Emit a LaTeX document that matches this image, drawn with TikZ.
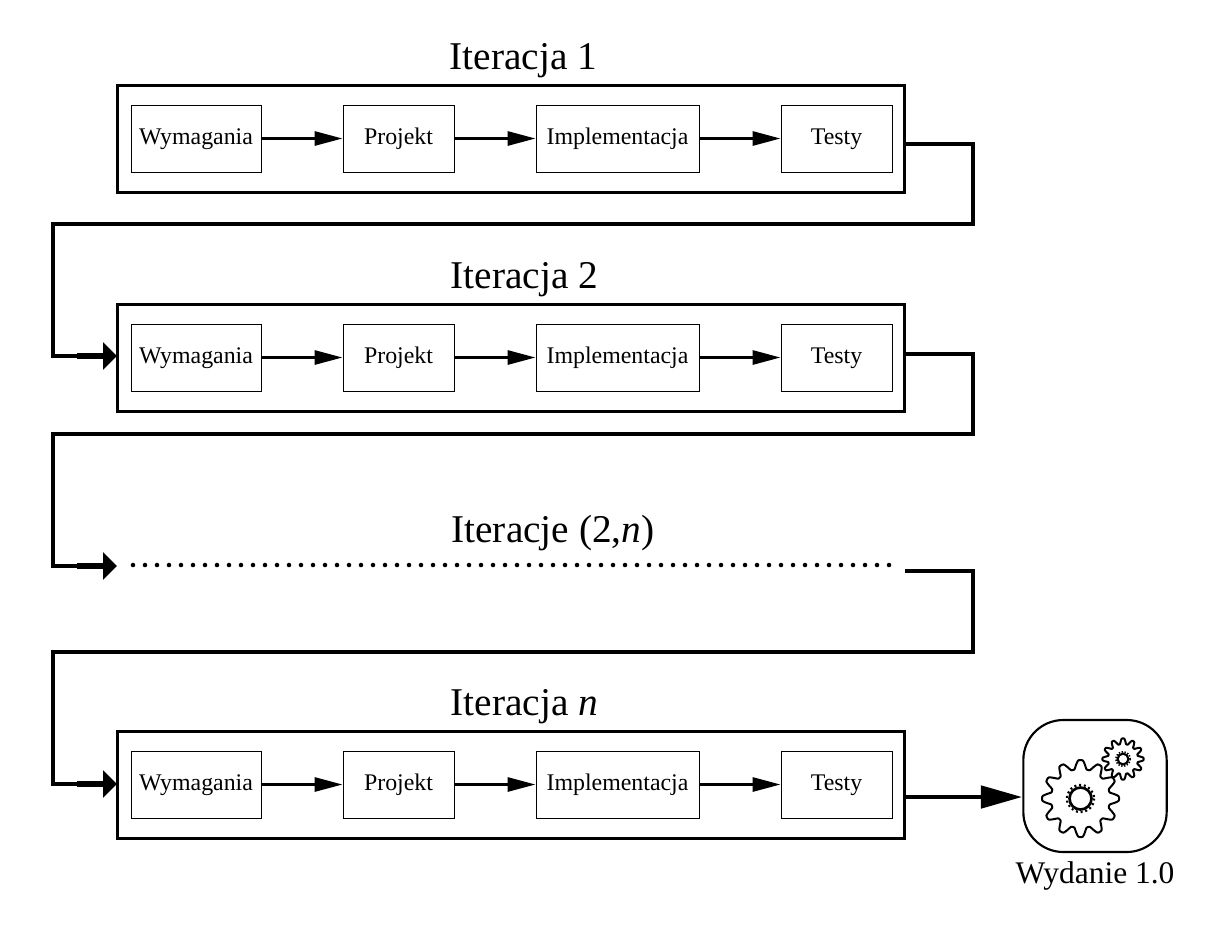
\documentclass[tikz,border=0pt]{standalone}
\usepackage{fontspec}
\setmainfont{Liberation Serif}
\usetikzlibrary{arrows.meta,calc}
\tikzset{
  outerbox/.style={draw,line width=2.3pt,minimum width=590.5pt,minimum height=80.5pt,inner sep=0pt},
  stepbox/.style={draw,line width=0.7pt,minimum height=50.2pt,inner sep=0pt,text height=12pt,text depth=3.5pt,font=\fontsize{17.9pt}{20pt}\selectfont},
  flow/.style={line width=2.2pt,-{Triangle[length=21pt,width=10.5pt]}},
  link/.style={line width=3.2pt,line join=miter},
  linkin/.style={line width=4.2pt,-{Triangle[length=10.5pt,width=20pt]}},
  title/.style={font=\fontsize{29.5pt}{34pt}\selectfont,inner sep=0pt,anchor=base},
  dotted line/.style={line width=3.4pt,line cap=round,dash pattern=on 0pt off 9pt},
  gearline/.style={line width=1.5pt,line join=round}
}
% \gearshape{cx}{cy}{R}{a}
\newcommand{\gearshape}[4]{%
  \draw[gearline] plot[smooth,domain=0:360,samples=193]
    ({#1+(#3+#4*max(min(1.25*cos(12*\x),1),-1))*cos(\x)},
     {#2+(#3+#4*max(min(1.25*cos(12*\x),1),-1))*sin(\x)}) -- cycle;}
\begin{document}
\begin{tikzpicture}[x=0.75pt,y=-0.75pt]
\useasboundingbox (0,0) rectangle (1212,929);
% rows
\foreach \r/\oy/\iy in {1/139/138.5,2/358/357.5,4/785/784.5}{
  \node[outerbox] (box\r) at (511,\oy) {};
  \node[stepbox,minimum width=97.5pt] (w\r) at (196,\iy) {Wymagania};
  \node[stepbox,minimum width=83.2pt] (p\r) at (398.5,\iy) {Projekt};
  \node[stepbox,minimum width=122.2pt] (i\r) at (617.5,\iy) {Implementacja};
  \node[stepbox,minimum width=83.2pt] (t\r) at (836.5,\iy) {Testy};
  \draw[flow] (w\r) -- (p\r);
  \draw[flow] (p\r) -- (i\r);
  \draw[flow] (i\r) -- (t\r);
}
% titles
\node[title] (tt1) at (523.5,69) {Iteracja 1};
\node[title] (tt2) at (524.5,288) {Iteracja 2};
\node[title] (tt3) at (553,542) {Iteracje (2,\textit{n})};
\node[title] (tt4) at (524.5,715) {Iteracja \textit{n}};
% dotted row
\coordinate (dotsL) at (133,565);
\coordinate (dotsR) at (892,565);
\draw[dotted line] (dotsL) -- (dotsR);
% links
\coordinate (o1) at (905,144); \coordinate (r1) at (973,224); \coordinate (l1) at (53,224);
\coordinate (o2) at (905,354); \coordinate (r2) at (973,434); \coordinate (l2) at (53,434);
\coordinate (o3) at (905,571); \coordinate (r3) at (973,652); \coordinate (l3) at (53,652);
\coordinate (e2) at (53,356);  \coordinate (s2) at (77,356);
\coordinate (e3) at (53,566);  \coordinate (s3) at (77,566);
\coordinate (e4) at (53,784);  \coordinate (s4) at (77,784);
\coordinate (h2) at (117,356); \coordinate (h3) at (117,566); \coordinate (h4) at (117,784);
\draw[link] (o1) -| (r1) -- (l1) -- (e2) -- (s2);
\draw[link] (o2) -| (r2) -- (l2) -- (e3) -- (s3);
\draw[link] (o3) -| (r3) -- (l3) -- (e4) -- (s4);
\draw[linkin] (s2) -- (h2);
\draw[linkin] (s3) -- (h3);
\draw[linkin] (s4) -- (h4);
% release
\node[draw,line width=1.6pt,rounded corners=30pt,minimum width=107.5pt,minimum height=99pt,inner sep=0pt] (rel) at (1095,786) {};
\node[font=\fontsize{23.6pt}{28pt}\selectfont,inner sep=0pt,anchor=base] (rellab) at (1095,883) {Wydanie 1.0};
\coordinate (o4) at (905,797);
\draw[line width=3.6pt,-{Triangle[length=31pt,width=16.5pt]}] (o4) -- (o4 -| rel.west);
% gears
\gearshape{1080.5}{798.5}{34}{4.5}
\gearshape{1123}{759}{17.8}{2.8}
\draw[line width=2pt] (1080.5,798.5) circle[radius=11];
\draw[line width=1.6pt,dash pattern=on 1.5pt off 2.1pt] (1080.5,798.5) circle[radius=13.6];
\draw[line width=1.6pt] (1123,759) circle[radius=5.4];
\draw[line width=1.2pt,dash pattern=on 1pt off 1.2pt] (1123,759) circle[radius=7.2];
\end{tikzpicture}
\end{document}
